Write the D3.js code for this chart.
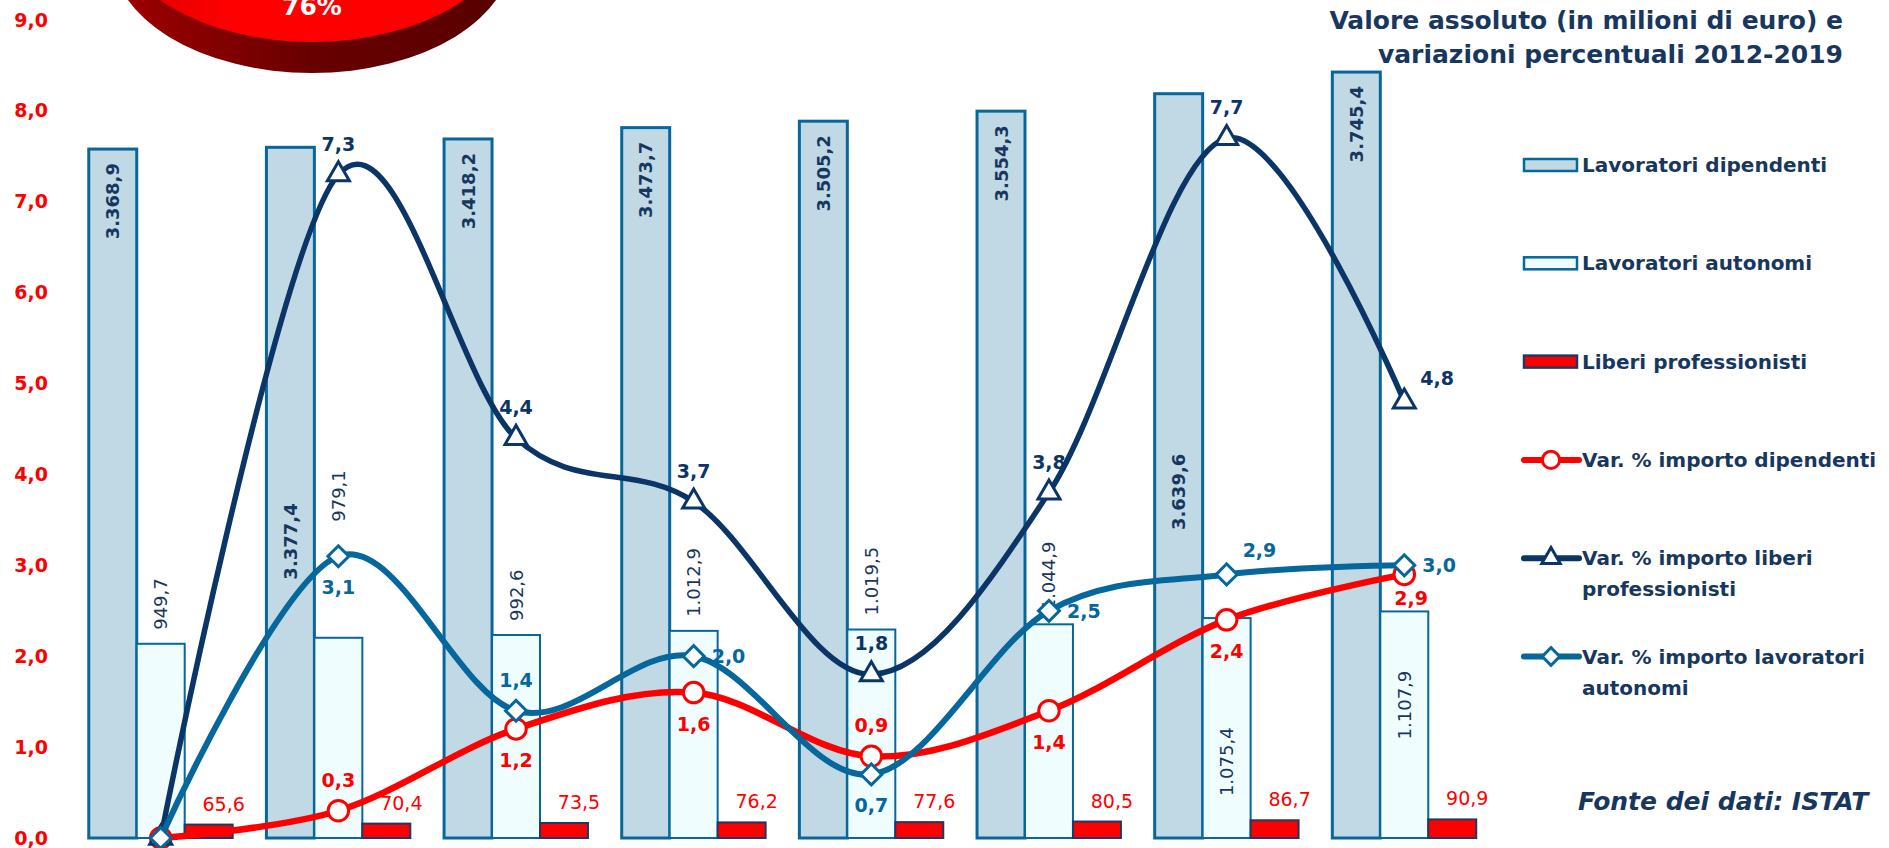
<!DOCTYPE html>
<html>
<head>
<meta charset="utf-8">
<script src="https://cdn.jsdelivr.net/npm/d3@7"></script>
<style>
  body { margin: 0; background: #fff; }
  svg { display: block; font-family: "DejaVu Sans", sans-serif; }
</style>
</head>
<body>
<div id="container"></div>
<script>
/* DATA */
const years = ["2012", "2013", "2014", "2015", "2016", "2017", "2018", "2019"];
const dipendenti = [3368.9, 3377.4, 3418.2, 3473.7, 3505.2, 3554.3, 3639.6, 3745.4];
const autonomi = [949.7, 979.1, 992.6, 1012.9, 1019.5, 1044.9, 1075.4, 1107.9];
const liberi = [65.6, 70.4, 73.5, 76.2, 77.6, 80.5, 86.7, 90.9];
const varDipendenti = [0, 0.3, 1.2, 1.6, 0.9, 1.4, 2.4, 2.9];
const varLiberi = [0, 7.3, 4.4, 3.7, 1.8, 3.8, 7.7, 4.8];
const varAutonomi = [0, 3.1, 1.4, 2.0, 0.7, 2.5, 2.9, 3.0];
const pctTicks = [0, 1, 2, 3, 4, 5, 6, 7, 8, 9];
const pieValues = [76, 24];
const pieLabels = ["76%", "24%"];
const titleLines = ["Valore assoluto (in milioni di euro) e", "variazioni percentuali 2012-2019"];
const sourceText = "Fonte dei dati: ISTAT";
const legendLines = [
  ["Lavoratori dipendenti"],
  ["Lavoratori autonomi"],
  ["Liberi professionisti"],
  ["Var. % importo dipendenti"],
  ["Var. % importo liberi", "professionisti"],
  ["Var. % importo lavoratori", "autonomi"]
];

/* CONSTANTS AND GLOBALS */
const width = 1889;
const height = 848;
const NAVY = "#17375e";
const LINE_NAVY = "#0c3567";
const TEAL = "#05679c";
const RED = "#ff0000";

// where the data labels sit (layout only)
const lineLabelPos = {
  dip: [null, "t", "b", "b", "t", "b", "b", "br"],
  lib: [null, "t", "t", "t", "t", "t", "t", "tr"],
  aut: [null, "b", "t", "r", "b", "r", "tr", "r"]
};
const posOffset = {
  t: { dx: 0, dy: -31, anchor: "middle" },
  b: { dx: 0, dy: 31, anchor: "middle" },
  r: { dx: 18, dy: 0, anchor: "start" },
  tr: { dx: 16, dy: -24, anchor: "start" },
  br: { dx: -10, dy: 24, anchor: "start" }
};
// dipendenti labels: offset of label end from bar top (px), some pushed down
const dipLabelShift = [14, 356, 14, 14, 14, 14, 360, 14];
// autonomi labels: offset of label start from bar top (negative = above)
const autLabelShift = [-14, -116, -14, -14, -14, -14, 178, 128];

const it = d3.formatLocale({ decimal: ",", thousands: ".", grouping: [3], currency: ["", "€"] });
const fmt1 = it.format(",.1f");

const svg = d3.select("#container")
  .append("svg")
  .attr("width", width)
  .attr("height", height);

/**********/
/* SCALES */
/**********/
const xScale = d3.scaleBand()
  .domain(years)
  .range([71, 1494])
  .paddingInner(0.19)
  .paddingOuter(0.1);

const subScale = d3.scaleBand()
  .domain(["dip", "aut", "lib"])
  .range([0, xScale.bandwidth()]);

const yPct = d3.scaleLinear().domain([0, 9]).range([838, 20]);
const yAbs = d3.scaleLinear().domain([0, 4000]).range([838, 20]);

const cx = i => xScale(years[i]) + xScale.bandwidth() / 2;

/*******/
/* PIE */
/*******/
const defs = svg.append("defs");
const gSide = defs.append("linearGradient").attr("id", "pieSide");
gSide.append("stop").attr("offset", "0%").attr("stop-color", "#a00000");
gSide.append("stop").attr("offset", "50%").attr("stop-color", "#680000");
gSide.append("stop").attr("offset", "100%").attr("stop-color", "#580000");
const gTop = defs.append("linearGradient").attr("id", "pieTop");
gTop.append("stop").attr("offset", "0%").attr("stop-color", "#d80000");
gTop.append("stop").attr("offset", "30%").attr("stop-color", "#ff0000");
gTop.append("stop").attr("offset", "100%").attr("stop-color", "#ff0000");

const pie = d3.pie().sort(null).startAngle(0.24 * Math.PI).endAngle(2.24 * Math.PI);
const arcs = pie(pieValues);
const arcGen = d3.arc().innerRadius(0).outerRadius(200);
const arcLabel = d3.arc().innerRadius(140).outerRadius(140);

const pieG = svg.append("g").attr("transform", "translate(312,-78)");
pieG.append("g")
  .attr("transform", "translate(0,31) scale(1,0.6)")
  .selectAll("path")
  .data(arcs)
  .join("path")
  .attr("d", arcGen)
  .attr("fill", (d, i) => i === 0 ? "url(#pieSide)" : "#3a3a3a");
pieG.append("g")
  .attr("transform", "scale(1,0.6)")
  .selectAll("path")
  .data(arcs)
  .join("path")
  .attr("d", arcGen)
  .attr("fill", (d, i) => i === 0 ? "url(#pieTop)" : "#7f7f7f");
pieG.selectAll("text.pie-label")
  .data(arcs)
  .join("text")
  .attr("class", "pie-label")
  .attr("x", d => arcLabel.centroid(d)[0])
  .attr("y", d => arcLabel.centroid(d)[1] * 0.6)
  .attr("text-anchor", "middle")
  .attr("dominant-baseline", "central")
  .attr("fill", "#fff")
  .style("font-size", "25px")
  .style("font-weight", "bold")
  .text((d, i) => pieLabels[i]);

/********/
/* AXIS */
/********/
const yAxis = svg.append("g")
  .attr("transform", "translate(48,0)")
  .call(d3.axisLeft(yPct).tickValues(pctTicks).tickSize(0).tickPadding(0).tickFormat(fmt1));
yAxis.select(".domain").remove();
yAxis.selectAll("text")
  .attr("fill", RED)
  .style("font-size", "19px")
  .style("font-weight", "bold")
  .style("font-family", "DejaVu Sans");

/********/
/* BARS */
/********/
const groups = svg.selectAll(".year")
  .data(years)
  .join("g")
  .attr("class", "year")
  .attr("transform", d => `translate(${xScale(d)},0)`);

groups.append("rect")
  .attr("x", subScale("dip"))
  .attr("width", subScale.bandwidth())
  .attr("y", (d, i) => yAbs(dipendenti[i]))
  .attr("height", (d, i) => yAbs(0) - yAbs(dipendenti[i]))
  .attr("fill", "#c1d9e5")
  .attr("stroke", "#07679b")
  .attr("stroke-width", 3);

groups.append("rect")
  .attr("x", subScale("aut"))
  .attr("width", subScale.bandwidth())
  .attr("y", (d, i) => yAbs(autonomi[i]))
  .attr("height", (d, i) => yAbs(0) - yAbs(autonomi[i]))
  .attr("fill", "#f0fdff")
  .attr("stroke", "#07679b")
  .attr("stroke-width", 2);

groups.append("rect")
  .attr("x", subScale("lib"))
  .attr("width", subScale.bandwidth())
  .attr("y", (d, i) => yAbs(liberi[i]))
  .attr("height", (d, i) => yAbs(0) - yAbs(liberi[i]))
  .attr("fill", RED)
  .attr("stroke", "#1f3864")
  .attr("stroke-width", 2);

// bar labels
groups.append("text")
  .attr("transform", (d, i) => {
    const x = subScale("dip") + subScale.bandwidth() / 2;
    const y = yAbs(dipendenti[i]) + dipLabelShift[i];
    return `translate(${x},${y}) rotate(-90)`;
  })
  .attr("text-anchor", "end")
  .attr("dominant-baseline", "central")
  .attr("fill", NAVY)
  .style("font-size", "18px")
  .style("font-weight", "bold")
  .text((d, i) => fmt1(dipendenti[i]));

groups.append("text")
  .attr("transform", (d, i) => {
    const x = subScale("aut") + subScale.bandwidth() / 2;
    const y = yAbs(autonomi[i]) + autLabelShift[i];
    return `translate(${x},${y}) rotate(-90)`;
  })
  .attr("text-anchor", "start")
  .attr("dominant-baseline", "central")
  .attr("fill", NAVY)
  .style("font-size", "18px")
  .text((d, i) => fmt1(autonomi[i]));

groups.append("text")
  .attr("x", subScale("lib") + subScale.bandwidth() / 2 + 15)
  .attr("y", (d, i) => yAbs(liberi[i]) - 14)
  .attr("text-anchor", "middle")
  .attr("fill", RED)
  .style("font-size", "19px")
  .text((d, i) => fmt1(liberi[i]));

/*********/
/* LINES */
/*********/
const lineGen = d3.line()
  .x((d, i) => cx(i))
  .y(d => yPct(d))
  .curve(d3.curveCardinal);

const series = [
  { key: "dip", values: varDipendenti, color: RED, width: 6.5, symbol: d3.symbolCircle, size: 330, rotate: 0 },
  { key: "lib", values: varLiberi, color: LINE_NAVY, width: 5.5, symbol: d3.symbolTriangle, size: 210, rotate: 0 },
  { key: "aut", values: varAutonomi, color: TEAL, width: 6, symbol: d3.symbolSquare, size: 220, rotate: 45 }
];

series.forEach(s => {
  svg.append("path")
    .datum(s.values)
    .attr("fill", "none")
    .attr("stroke", s.color)
    .attr("stroke-width", s.width)
    .attr("stroke-linecap", "round")
    .attr("d", lineGen);

  svg.selectAll(`.marker-${s.key}`)
    .data(s.values)
    .join("path")
    .attr("class", `marker-${s.key}`)
    .attr("transform", (d, i) => `translate(${cx(i)},${yPct(d)}) rotate(${s.rotate})`)
    .attr("d", d3.symbol().type(s.symbol).size(s.size))
    .attr("fill", "#fff")
    .attr("stroke", s.color)
    .attr("stroke-width", 3);
});

series.forEach(s => {
  svg.selectAll(`.label-${s.key}`)
    .data(s.values.map((v, i) => ({ v, i, pos: lineLabelPos[s.key][i] })).filter(d => d.pos))
    .join("text")
    .attr("class", `label-${s.key}`)
    .attr("x", d => cx(d.i) + posOffset[d.pos].dx)
    .attr("y", d => yPct(d.v) + posOffset[d.pos].dy)
    .attr("text-anchor", d => posOffset[d.pos].anchor)
    .attr("dominant-baseline", "central")
    .attr("fill", s.color)
    .style("font-size", "19px")
    .style("font-weight", "bold")
    .text(d => fmt1(d.v));
});

/*********/
/* TITLE */
/*********/
svg.selectAll(".title")
  .data(titleLines)
  .join("text")
  .attr("class", "title")
  .attr("x", 1843)
  .attr("y", (d, i) => 20 + i * 34)
  .attr("text-anchor", "end")
  .attr("dominant-baseline", "central")
  .attr("fill", NAVY)
  .style("font-size", "25px")
  .style("font-weight", "bold")
  .text(d => d);

/**********/
/* LEGEND */
/**********/
const legend = svg.selectAll(".legend")
  .data(legendLines)
  .join("g")
  .attr("class", "legend")
  .attr("transform", (d, i) => `translate(1524,${165 + i * 98.3})`);

const barStyles = [
  { fill: "#c1d9e5", stroke: "#07679b" },
  { fill: "#f0fdff", stroke: "#07679b" },
  { fill: RED, stroke: "#1f3864" }
];

legend.filter((d, i) => i < 3)
  .append("rect")
  .attr("x", 0)
  .attr("y", -6)
  .attr("width", 53)
  .attr("height", 12)
  .attr("fill", (d, i) => barStyles[i].fill)
  .attr("stroke", (d, i) => barStyles[i].stroke)
  .attr("stroke-width", 2.5);

legend.filter((d, i) => i >= 3)
  .append("line")
  .attr("x1", 0)
  .attr("x2", 55)
  .attr("stroke", (d, i) => series[i].color)
  .attr("stroke-width", 6)
  .attr("stroke-linecap", "round");

legend.filter((d, i) => i >= 3)
  .append("path")
  .attr("transform", (d, i) => `translate(27,0) rotate(${series[i].rotate})`)
  .attr("d", (d, i) => d3.symbol().type(series[i].symbol).size(series[i].size * 0.7)())
  .attr("fill", "#fff")
  .attr("stroke", (d, i) => series[i].color)
  .attr("stroke-width", 3);

legend.each(function(lines) {
  d3.select(this).selectAll("text")
    .data(lines)
    .join("text")
    .attr("x", 58)
    .attr("y", (d, j) => j * 31)
    .attr("dominant-baseline", "central")
    .attr("fill", NAVY)
    .style("font-size", "20px")
    .style("font-weight", "bold")
    .text(d => d);
});

svg.append("text")
  .attr("x", 1578)
  .attr("y", 801)
  .attr("dominant-baseline", "central")
  .attr("fill", NAVY)
  .style("font-size", "25px")
  .style("font-weight", "bold")
  .style("font-style", "italic")
  .text(sourceText);
</script>
</body>
</html>
